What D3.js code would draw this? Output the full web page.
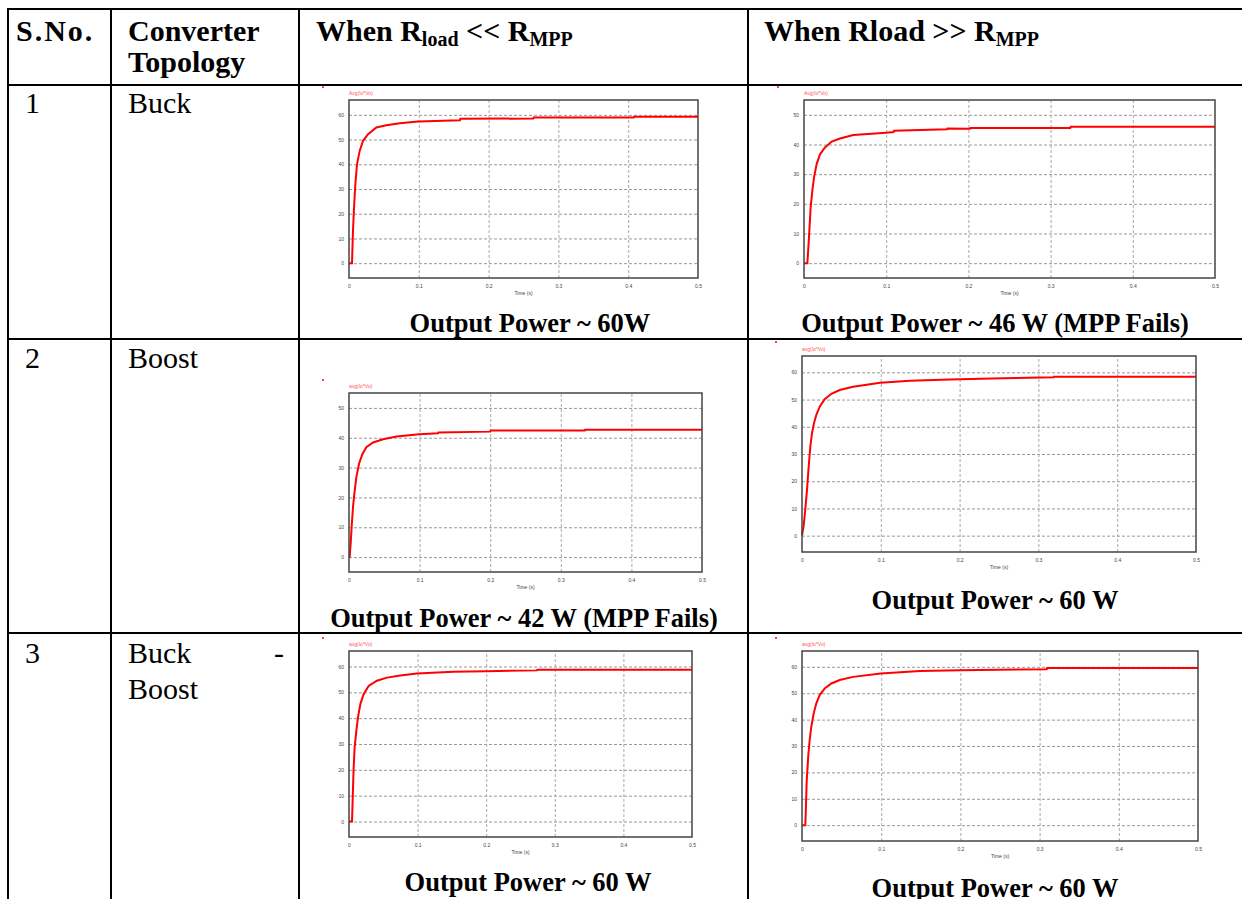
<!DOCTYPE html>
<html>
<head>
<meta charset="utf-8">
<script src="https://cdn.jsdelivr.net/npm/d3@7"></script>
<style>
  body { margin: 0; background: #fff; }
  svg { display: block; }
  .cell { font-family: "Liberation Serif", "Times New Roman", serif; fill: #000; }
  .tick text { font-family: "Liberation Sans", Arial, sans-serif; font-size: 5px; fill: #444; }
</style>
</head>
<body>
<div id="chart"></div>
<script>
// ---- data (time in s, power in W) ----
const timeTicks = [0, 0.1, 0.2, 0.3, 0.4, 0.5];
const ticks60 = [0, 10, 20, 30, 40, 50, 60];
const ticks50 = [0, 10, 20, 30, 40, 50];

const buckLowT = [0, 0.0043, 0.0057, 0.0072, 0.0091, 0.0115, 0.0153, 0.0201, 0.0273, 0.0392, 0.0536, 0.0727, 0.099, 0.159, 0.1595, 0.264, 0.2645, 0.408, 0.4085, 0.5];
const buckLowP = [0, 0, 13, 22.5, 32, 40, 45.4, 49.5, 52.2, 54.9, 55.8, 56.6, 57.3, 57.8, 58.4, 58.5, 58.9, 58.9, 59.2, 59.2];

const buckHighT = [0, 0.0041, 0.0053, 0.0065, 0.0081, 0.0101, 0.0122, 0.0154, 0.0195, 0.0255, 0.0337, 0.0438, 0.06, 0.0998, 0.109, 0.1095, 0.174, 0.1745, 0.202, 0.2025, 0.324, 0.3245, 0.5];
const buckHighP = [0, 0, 5.3, 10.9, 18.8, 24.4, 28.9, 33.4, 36.7, 39, 41, 42, 43.2, 44.0, 44.2, 44.6, 45.1, 45.4, 45.3, 45.6, 45.6, 46.0, 46.0];

const boostLowT = [0, 0.0009, 0.0024, 0.0038, 0.0057, 0.0076, 0.0104, 0.0142, 0.0189, 0.0246, 0.0341, 0.0483, 0.0672, 0.0993, 0.126, 0.1265, 0.2, 0.2005, 0.334, 0.3345, 0.5];
const boostLowP = [0, 0, 4.7, 10.3, 16.9, 21.3, 26.8, 31.3, 34.5, 36.8, 38.4, 39.5, 40.4, 41.2, 41.5, 41.8, 42.05, 42.4, 42.4, 42.7, 42.7];

const boostHighT = [0, 0.0021, 0.0042, 0.0064, 0.0085, 0.0106, 0.0127, 0.0153, 0.0182, 0.0225, 0.0288, 0.0373, 0.0479, 0.0648, 0.0992, 0.137, 0.188, 0.255, 0.319, 0.3195, 0.5];
const boostHighP = [0, 3.6, 9.7, 17, 25.5, 32.8, 37.7, 41.4, 44.4, 47.4, 50.1, 52.1, 53.5, 54.7, 56.2, 56.9, 57.4, 57.8, 58.2, 58.4, 58.4];

const bbLowT = [0, 0.0044, 0.0053, 0.0063, 0.0068, 0.0082, 0.0107, 0.0131, 0.0165, 0.0213, 0.0286, 0.0407, 0.0553, 0.0747, 0.0989, 0.152, 0.2, 0.274, 0.2745, 0.5];
const bbLowP = [0, 0, 8, 17, 20.9, 28.6, 35.1, 40.3, 45.4, 49.3, 52.5, 54.5, 55.7, 56.5, 57.3, 58, 58.2, 58.5, 58.7, 58.7];

const bbHighT = [0, 0.0042, 0.0051, 0.0059, 0.0067, 0.008, 0.0097, 0.0118, 0.0148, 0.0181, 0.0223, 0.0287, 0.0371, 0.0476, 0.0645, 0.0995, 0.149, 0.1994, 0.309, 0.3095, 0.5];
const bbHighP = [0, 0, 8.4, 16.6, 20.4, 26.7, 32.3, 37.4, 42.4, 46.2, 49.3, 51.8, 53.7, 55, 56.2, 57.5, 58.4, 58.7, 59.1, 59.6, 59.6];

const seriesLabels = ["Avg(Io*Vo)", "Avg(Io*Vo)", "avg(Io*Vo)", "avg(Io*Vo)", "avg(Io*Vo)", "avg(Io*Vo)"];
const captions = [
  "Output Power ~ 60W", "Output Power ~ 46 W (MPP Fails)",
  "Output Power ~ 42 W (MPP Fails)", "Output Power ~ 60 W",
  "Output Power ~ 60 W", "Output Power ~ 60 W"
];
const rowNumbers = ["1", "2", "3"];
const topologies = ["Buck", "Boost", "Buck - Boost"];

// ---- page ----
const svg = d3.select("#chart")
  .append("svg")
  .attr("width", 1242)
  .attr("height", 899);

// table grid
const colX = [8, 111, 299, 748];
const rowY = [9, 85, 339, 633];

const grid = svg.append("g").attr("stroke", "#000").attr("stroke-width", 2);
rowY.forEach(y => grid.append("line").attr("x1", 7).attr("x2", 1242).attr("y1", y).attr("y2", y));
colX.forEach(x => grid.append("line").attr("x1", x).attr("x2", x).attr("y1", 8).attr("y2", 899));

// header
const header = svg.append("g").attr("class", "cell").attr("font-weight", "bold").attr("font-size", 30);
header.append("text").attr("x", 16).attr("y", 41).attr("letter-spacing", 2).text("S.No.");
header.append("text").attr("x", 128).attr("y", 41).text("Converter");
header.append("text").attr("x", 128).attr("y", 72).text("Topology");

const h1 = header.append("text").attr("x", 316).attr("y", 41);
h1.append("tspan").text("When R");
h1.append("tspan").attr("font-size", 20).attr("dy", 5).text("load");
h1.append("tspan").attr("dy", -5).text(" << R");
h1.append("tspan").attr("font-size", 20).attr("dy", 5).text("MPP");

const h2 = header.append("text").attr("x", 764).attr("y", 41);
h2.append("tspan").text("When Rload >> R");
h2.append("tspan").attr("font-size", 20).attr("dy", 5).text("MPP");

// body text
const body = svg.append("g").attr("class", "cell").attr("font-size", 30);
const rowBase = [113, 368, 663];
rowNumbers.forEach((n, i) => body.append("text").attr("x", 25).attr("y", rowBase[i]).text(n));
body.append("text").attr("x", 128).attr("y", rowBase[0]).text(topologies[0]);
body.append("text").attr("x", 128).attr("y", rowBase[1]).text(topologies[1]);
const bb = topologies[2].split(" ");
body.append("text").attr("x", 128).attr("y", rowBase[2]).text(bb[0]);
body.append("text").attr("x", 274).attr("y", rowBase[2]).text(bb[1]);
body.append("text").attr("x", 128).attr("y", 699).text(bb[2]);

// plots
const panels = [
  { t: buckLowT, p: buckLowP, yd: [-6, 66], yt: ticks60, box: [349, 100, 698, 278], cap: [530, 332] },
  { t: buckHighT, p: buckHighP, yd: [-5, 55], yt: ticks50, box: [804, 100, 1215, 278], cap: [995, 332] },
  { t: boostLowT, p: boostLowP, yd: [-5, 55], yt: ticks50, box: [349, 393, 702, 572], cap: [524, 627] },
  { t: boostHighT, p: boostHighP, yd: [-6, 66], yt: ticks60, box: [802, 356, 1196, 552], cap: [995, 609] },
  { t: bbLowT, p: bbLowP, yd: [-6, 66], yt: ticks60, box: [349, 651, 692, 837], cap: [528, 891] },
  { t: bbHighT, p: bbHighP, yd: [-6, 66], yt: ticks60, box: [802, 651, 1198, 841], cap: [995, 897] }
];

panels.forEach((pn, i) => {
  const [x0, y0, x1, y1] = pn.box;
  const w = x1 - x0, h = y1 - y0;
  const g = svg.append("g").attr("transform", `translate(${x0},${y0})`);

  const x = d3.scaleLinear().domain([0, 0.5]).range([0, w]);
  const y = d3.scaleLinear().domain(pn.yd).range([h, 0]);

  // grid lines
  g.append("g")
    .call(d3.axisLeft(y).tickValues(pn.yt).tickSize(-w).tickFormat(""))
    .call(a => a.select(".domain").remove())
    .selectAll("line")
    .attr("stroke", "#999")
    .attr("stroke-dasharray", "3,2");
  g.append("g")
    .attr("transform", `translate(0,${h})`)
    .call(d3.axisBottom(x).tickValues(timeTicks.slice(1, -1)).tickSize(-h).tickFormat(""))
    .call(a => a.select(".domain").remove())
    .selectAll("line")
    .attr("stroke", "#aaa")
    .attr("stroke-dasharray", "3,2");

  // tick labels
  g.append("g")
    .call(d3.axisLeft(y).tickValues(pn.yt).tickSize(0).tickPadding(5))
    .call(a => a.select(".domain").remove());
  g.append("g")
    .attr("transform", `translate(0,${h})`)
    .call(d3.axisBottom(x).tickValues(timeTicks).tickSize(0).tickPadding(6).tickFormat(d => String(d)))
    .call(a => a.select(".domain").remove());

  g.append("text")
    .attr("x", w / 2)
    .attr("y", h + 17)
    .attr("text-anchor", "middle")
    .style("font-family", "Liberation Sans, Arial, sans-serif")
    .style("font-size", "5px")
    .attr("fill", "#444")
    .text("Time (s)");

  g.append("text")
    .attr("x", 0)
    .attr("y", -5)
    .style("font-family", "Liberation Sans, Arial, sans-serif")
    .style("font-size", "5px")
    .attr("fill", "#f55")
    .text(seriesLabels[i]);

  // tiny red mark at the corner of each pasted plot
  g.append("rect")
    .attr("x", -27)
    .attr("y", i === 3 ? -15 : -14)
    .attr("width", 2)
    .attr("height", 2)
    .attr("fill", "#f44");

  const pts = pn.t.map((t, k) => [t, pn.p[k]]);
  g.append("path")
    .datum(pts)
    .attr("fill", "none")
    .attr("stroke", "#ff0000")
    .attr("stroke-width", 2)
    .attr("d", d3.line().x(d => x(d[0])).y(d => y(d[1])));

  // frame
  g.append("rect")
    .attr("width", w)
    .attr("height", h)
    .attr("fill", "none")
    .attr("stroke", "#444")
    .attr("stroke-width", 1.5);

  svg.append("text")
    .attr("class", "cell")
    .attr("x", pn.cap[0])
    .attr("y", pn.cap[1])
    .attr("text-anchor", "middle")
    .attr("font-weight", "bold")
    .attr("font-size", 26.5)
    .text(captions[i]);
});
</script>
</body>
</html>
